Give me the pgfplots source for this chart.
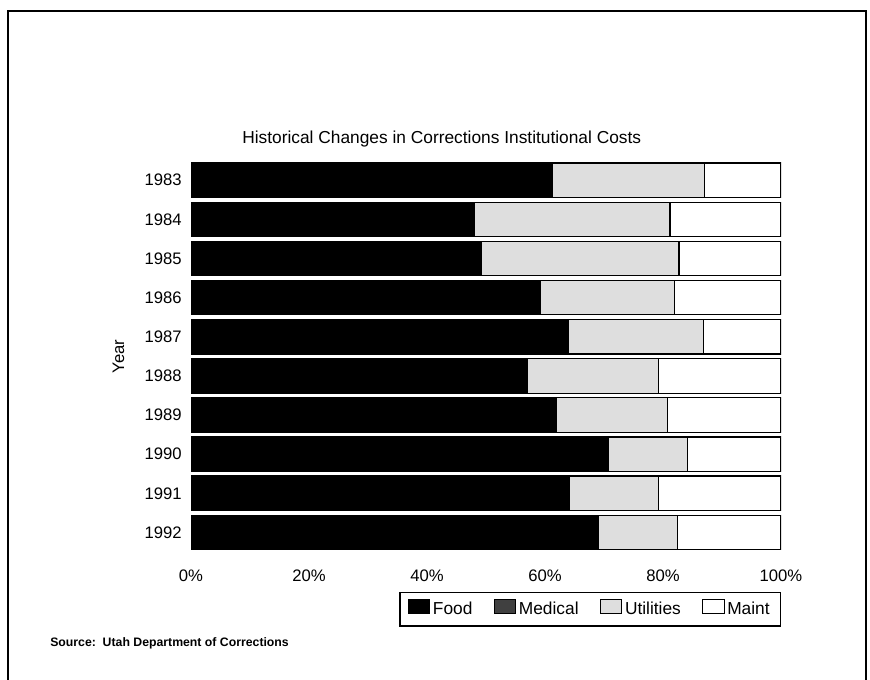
\documentclass[border=0pt]{standalone}
\usepackage{pgfplots}
\usepackage{pgfplotstable}
\pgfplotsset{compat=1.18}
\usepackage{fontspec}
\setmainfont{Liberation Sans}

\pgfplotstableread{
yr food med util maint
0 61.2 0 25.9 12.9
1 48.1 0 33.1 18.8
2 49.3 0 33.4 17.3
3 59.2 0 22.7 18.1
4 63.9 0 22.9 13.2
5 57.1 0 22.2 20.7
6 61.9 0 18.9 19.2
7 70.7 0 13.5 15.8
8 64.2 0 15.1 20.7
9 69.0 0 13.5 17.5
}\costdata

\begin{document}
\begin{tikzpicture}
\path[use as bounding box] (0,0) rectangle (652.5pt,-510pt);
\draw[line width=1.5pt] (6pt,-512pt) -- (6pt,-8.25pt) -- (649.5pt,-8.25pt) -- (649.5pt,-512pt);
\begin{axis}[
  at={(143.25pt,-414pt)}, anchor=south west,
  scale only axis, width=442.5pt, height=293.5pt,
  font=\fontsize{12.5}{15}\selectfont,
  xbar stacked, bar width=0.88,
  xmin=0, xmax=100, ymin=-0.5, ymax=9.5, y dir=reverse,
  ytick={0,1,2,3,4,5,6,7,8,9},
  yticklabels={1983,1984,1985,1986,1987,1988,1989,1990,1991,1992},
  xtick={0,20,40,60,80,100},
  xticklabels={0\%,20\%,40\%,60\%,80\%,100\%},
  axis line style={draw=none}, major tick length=0pt,
  yticklabel style={anchor=east, inner sep=0pt, xshift=-6.75pt},
  xticklabel style={anchor=north, inner sep=0pt, yshift=-13pt},
  ylabel={Year},
  ylabel style={at={(axis description cs:-0.123,0.5)}, anchor=center},
  title={Historical Changes in Corrections Institutional Costs},
  title style={at={(axis description cs:0.425,1)}, anchor=center, yshift=10pt, font=\fontsize{13}{15}\selectfont},
  legend columns=4,
  legend style={at={(1,0)}, anchor=north east, yshift=-30pt, draw=black, line width=1pt,
    inner xsep=6pt, inner ysep=5pt, font=\fontsize{13}{15}\selectfont,
    /tikz/every even column/.append style={column sep=14pt}},
  legend image code/.code={\draw[#1, line width=0.8pt] (0pt,-3.5pt) rectangle (16pt,7pt);},
]
\addplot[fill=black, draw=black, line width=0.9pt] table[x=food, y=yr]{\costdata};
\addlegendentry{Food}
\addplot[fill=black!75, draw=black, line width=0.9pt] table[x=med, y=yr]{\costdata};
\addlegendentry{Medical}
\addplot[fill=black!13, draw=black, line width=0.9pt] table[x=util, y=yr]{\costdata};
\addlegendentry{Utilities}
\addplot[fill=white, draw=black, line width=0.9pt] table[x=maint, y=yr]{\costdata};
\addlegendentry{Maint}
\end{axis}
\node[anchor=base west, inner sep=0pt, font=\fontsize{9.2}{10}\selectfont\bfseries] at (37.5pt,-484.5pt) {Source:\ \ Utah Department of Corrections};
\end{tikzpicture}
\end{document}
